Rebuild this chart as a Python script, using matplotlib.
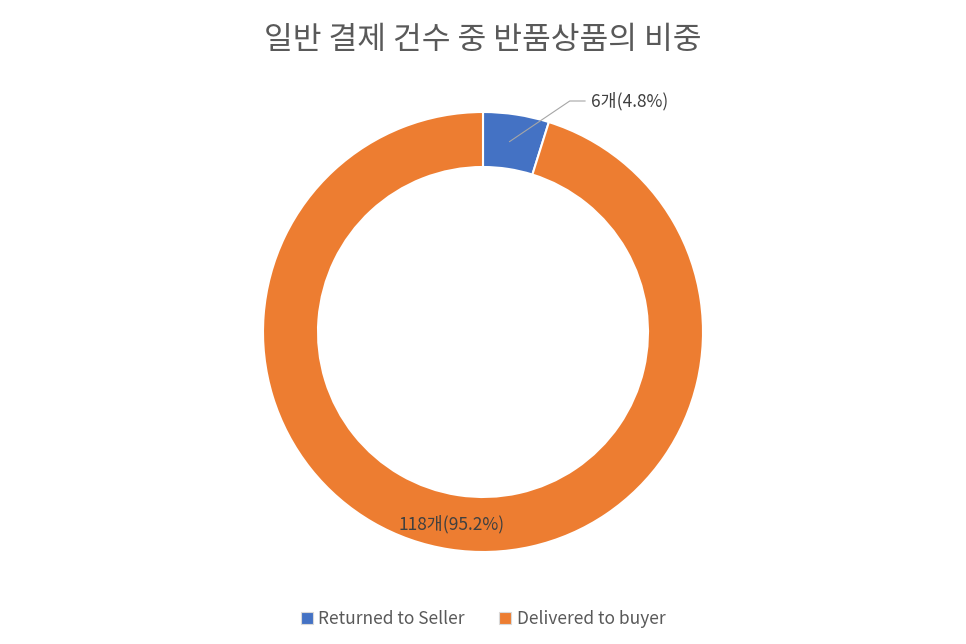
import matplotlib
matplotlib.use('Agg')
import matplotlib.pyplot as plt
from matplotlib.patches import Patch

plt.rcParams['font.family'] = ['Noto Sans CJK KR', 'DejaVu Sans']

# data
categories = ['Returned to Seller', 'Delivered to buyer']
counts = [6, 118]
colors = ['#4472C4', '#ED7D31']
title = '일반 결제 건수 중 반품상품의 비중'

total = sum(counts)
labels = [f'{c}개({c / total * 100:.1f}%)' for c in counts]

fig = plt.figure(figsize=(9.66, 6.44), dpi=100)
cx, cy, r = 483, 332, 220
ax = fig.add_axes([(cx - r) / 966, (644 - cy - r) / 644, 2 * r / 966, 2 * r / 644])

wedges, _ = ax.pie(counts, colors=colors, startangle=90, counterclock=False,
                   radius=1.0, wedgeprops=dict(width=0.25, edgecolor='white', linewidth=1.5))
ax.set_xlim(-1, 1)
ax.set_ylim(-1, 1)
ax.set_aspect('equal')
ax.axis('off')

# small slice label with leader line
ax.annotate(labels[0], xy=(0.12, 0.865), xytext=(0.49, 1.05),
            fontsize=12.5, color='#404040', va='center', ha='left',
            arrowprops=dict(arrowstyle='-', color='#A6A6A6', lw=0.8,
                            connectionstyle='angle,angleA=0,angleB=34,rad=0',
                            shrinkA=2, shrinkB=0))
# large slice label inside ring
ax.text(-0.145, -0.875, labels[1], fontsize=12.5, color='#404040', ha='center', va='center')

fig.text(0.5, 1 - 40 / 644, title, fontsize=22.5, color='#595959', ha='center', va='center')

handles = [Patch(facecolor=c, edgecolor='#D9D9D9', linewidth=0.8) for c in colors]
fig.legend(handles, categories, loc='center', bbox_to_anchor=(0.5, 1 - 619 / 644), ncol=2,
           frameon=False, fontsize=12.5, labelcolor='#595959', handlelength=0.7,
           handleheight=0.7, handletextpad=0.3, columnspacing=2.0)

fig.savefig('out.png', dpi=100, facecolor='white')
